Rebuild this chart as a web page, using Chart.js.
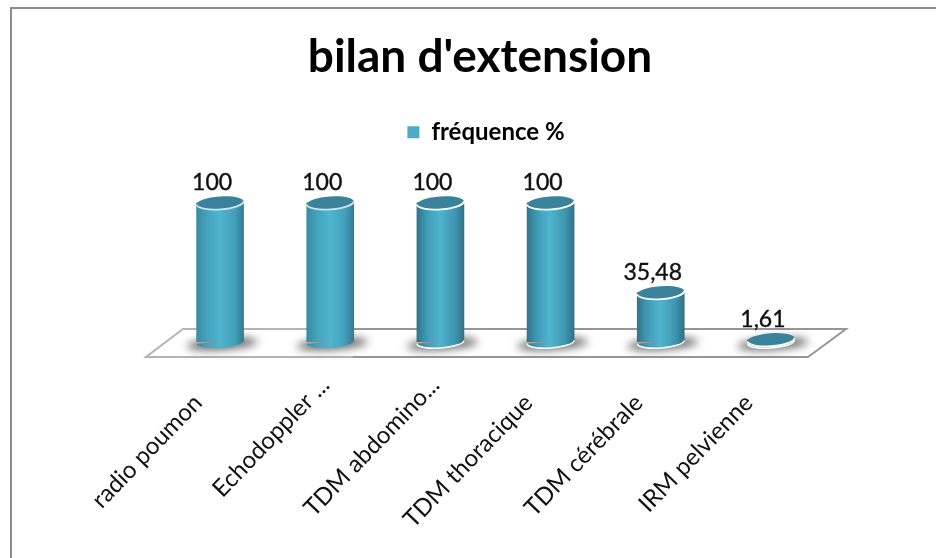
<!DOCTYPE html>
<html>
<head>
<meta charset="utf-8">
<title>bilan d'extension</title>
<script src="https://cdn.jsdelivr.net/npm/chart.js@4"></script>
<style>
  html, body { margin: 0; padding: 0; background: #fff; }
  canvas { display: block; }
</style>
</head>
<body>
<canvas id="myChart" width="936" height="558"></canvas>
<script>
//data
const categories = ["radio poumon", "Echodoppler ...", "TDM abdomino...", "TDM thoracique", "TDM cérébrale", "IRM pelvienne"];
const frequences = [100, 100, 100, 100, 35.48, 1.61];
const seriesName = "fréquence %";
const chartTitle = "bilan d'extension";

const fontName = "Lato, 'Open Sans', sans-serif";

//the first two cylinders are paler and have a softer rim
function isPale(i) {
  return i < 2;
}

//shading across one cylinder, rebuilt for each bar
function barGradient(context) {
  const chart = context.chart;
  const x = chart.scales.x.getPixelForValue(context.dataIndex);
  const g = chart.ctx.createLinearGradient(x - 24, 0, x + 24, 0);
  if (isPale(context.dataIndex)) {
    g.addColorStop(0, "#3a8aa2");
    g.addColorStop(0.25, "#45a5bf");
    g.addColorStop(0.5, "#4fb5d0");
    g.addColorStop(0.8, "#43a0ba");
    g.addColorStop(1, "#327a90");
  } else {
    g.addColorStop(0, "#2f7488");
    g.addColorStop(0.2, "#3e98b2");
    g.addColorStop(0.48, "#4fb5d0");
    g.addColorStop(0.8, "#3f96b0");
    g.addColorStop(1, "#2f6f84");
  }
  return g;
}

function ellipse(ctx, x, y, rx, ry, start, end) {
  ctx.beginPath();
  ctx.ellipse(x, y, rx, ry, -0.07, start, end);
}

//outer frame, only top and left are drawn
const framePlugin = {
  id: "frame",
  beforeDraw(chart) {
    const ctx = chart.ctx;
    ctx.save();
    ctx.strokeStyle = "#8c8c8c";
    ctx.lineWidth = 2;
    ctx.beginPath();
    ctx.moveTo(11, chart.height);
    ctx.lineTo(11, 8);
    ctx.lineTo(chart.width, 8);
    ctx.stroke();
    ctx.restore();
  }
};

function floorPath(ctx, area) {
  ctx.beginPath();
  ctx.moveTo(area.left - 19, area.bottom + 15);
  ctx.lineTo(area.right - 18, area.bottom + 15);
  ctx.lineTo(area.right + 20, area.bottom - 13);
  ctx.lineTo(area.left + 18, area.bottom - 13);
  ctx.closePath();
}

//floor under the bars and the shadows on it
const floorPlugin = {
  id: "floor",
  beforeDatasetsDraw(chart) {
    const ctx = chart.ctx;
    const area = chart.chartArea;
    const split = area.left + 188;
    ctx.save();
    ctx.fillStyle = "#fff";
    floorPath(ctx, area);
    ctx.fill();
    ctx.lineWidth = 2;

    //left part of the outline is lighter
    ctx.save();
    ctx.beginPath();
    ctx.rect(0, 0, split, chart.height);
    ctx.clip();
    ctx.strokeStyle = "#b4b4b4";
    floorPath(ctx, area);
    ctx.stroke();
    ctx.restore();

    ctx.save();
    ctx.beginPath();
    ctx.rect(split, 0, chart.width - split, chart.height);
    ctx.clip();
    ctx.strokeStyle = "#969696";
    floorPath(ctx, area);
    ctx.stroke();
    ctx.restore();

    chart.getDatasetMeta(0).data.forEach(function (bar) {
      const half = bar.width / 2;
      ctx.save();
      ctx.filter = "blur(4px)";
      ctx.fillStyle = "rgba(60,60,60,0.75)";
      ellipse(ctx, bar.x + 2, bar.base + 2, half + 12, 6, 0, Math.PI * 2);
      ctx.fill();
      ctx.restore();
    });
    ctx.restore();
  }
};

//top of each cylinder and the value printed over it
const capPlugin = {
  id: "caps",
  afterDatasetsDraw(chart) {
    const ctx = chart.ctx;
    const meta = chart.getDatasetMeta(0);
    ctx.save();
    meta.data.forEach(function (bar, i) {
      const half = bar.width / 2;
      //rounded lower edge so the bar sits on the floor
      ctx.fillStyle = barGradient({ chart: chart, dataIndex: i });
      ellipse(ctx, bar.x, bar.base, half, 6, 0, Math.PI);
      ctx.fill();
      if (!isPale(i)) {
        ctx.strokeStyle = "#fff";
        ctx.lineWidth = 1.5;
        ctx.stroke();
      }

      ctx.fillStyle = "#3a8299";
      ellipse(ctx, bar.x, bar.y, half, 6.5, 0, Math.PI * 2);
      ctx.fill();
      ctx.strokeStyle = isPale(i) ? "#cfe4ea" : "#fff";
      ctx.lineWidth = 1.8;
      ellipse(ctx, bar.x, bar.y, half, 6.5, 0, Math.PI);
      ctx.stroke();

      ctx.fillStyle = "#111";
      ctx.strokeStyle = "#111";
      ctx.lineWidth = 0.4;
      ctx.font = "23px " + fontName;
      ctx.textAlign = "center";
      ctx.textBaseline = "middle";
      const label = String(frequences[i]).replace(".", ",");
      ctx.fillText(label, bar.x - 8, bar.y - 20);
      ctx.strokeText(label, bar.x - 8, bar.y - 20);
    });
    ctx.restore();
  }
};

//the legend is not centred on the title
const legendShift = {
  id: "legendShift",
  afterLayout(chart) {
    chart.legend.left += 6;
    chart.legend.right += 6;
  }
};

new Chart(document.getElementById("myChart"), {
  type: "bar",
  data: {
    labels: categories,
    datasets: [{
      label: seriesName,
      data: frequences,
      backgroundColor: barGradient,
      borderWidth: 0,
      barThickness: 47
    }]
  },
  plugins: [framePlugin, floorPlugin, capPlugin, legendShift],
  options: {
    responsive: false,
    animation: false,
    layout: { padding: { left: 134, right: 110, top: 0, bottom: 0 } },
    plugins: {
      title: {
        display: true,
        text: chartTitle,
        color: "#000",
        font: { family: fontName, size: 46, weight: "bold", lineHeight: 1.2 },
        padding: { top: 30, bottom: 2 }
      },
      legend: {
        display: true,
        position: "top",
        labels: {
          color: "#111",
          font: { family: fontName, size: 24, weight: "bold" },
          boxWidth: 12,
          boxHeight: 12,
          padding: 33,
          generateLabels(chart) {
            return [{
              text: seriesName,
              fillStyle: "#4bacc6",
              strokeStyle: "#4bacc6",
              lineWidth: 0,
              datasetIndex: 0
            }];
          }
        }
      },
      tooltip: { enabled: false }
    },
    scales: {
      x: {
        grid: { display: false, drawTicks: false },
        border: { display: false },
        afterFit(scale) { scale.height = 216; },
        ticks: {
          autoSkip: false,
          minRotation: 46,
          maxRotation: 46,
          padding: 29,
          labelOffset: -5,
          color: "#111",
          font: { family: fontName, size: 24 },
          //shortened labels sit a little further up their slope
          callback(value) {
            const name = categories[value];
            return name.endsWith("...") ? name : name + "    ";
          }
        }
      },
      y: {
        min: 0,
        max: 135,
        grid: { display: false, drawTicks: false },
        border: { display: false },
        ticks: { display: false },
        afterFit(scale) { scale.width = 31; }
      }
    }
  }
});
</script>
</body>
</html>
